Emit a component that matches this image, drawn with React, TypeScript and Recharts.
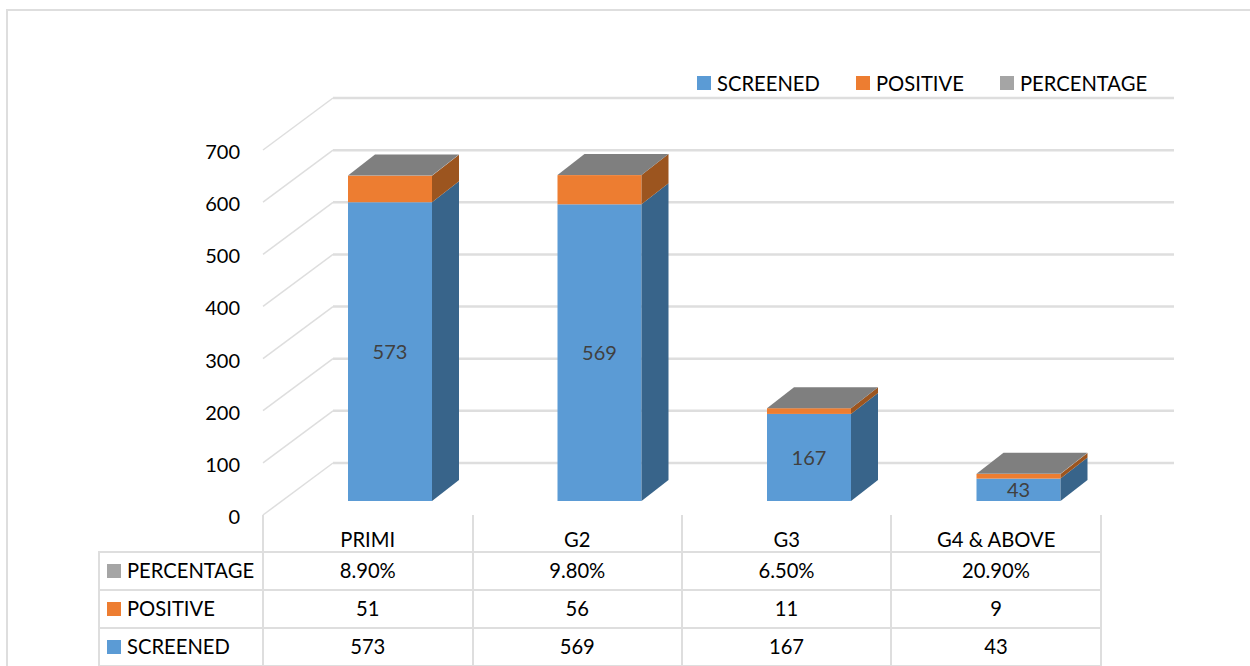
import React from "react";
import { BarChart, Bar, XAxis, YAxis, Legend, LabelList, CartesianGrid } from "recharts";

const categories = ["PRIMI", "G2", "G3", "G4 & ABOVE"];
const screened = [573, 569, 167, 43];
const positive = [51, 56, 11, 9];
const percentage = [8.9, 9.8, 6.5, 20.9];
const yTicks = [0, 100, 200, 300, 400, 500, 600, 700];

const W = 1250;
const H = 666;
const FONT = "Lato, 'Open Sans', sans-serif";
const FS = 20.2;
const GRID = "#dedede";
const WALL_FRONT = 263;
const WALL_BACK = 333;
const GRID_END = 1174;
const DX = 27;
const DY = 21;
const BLUE = "#5B9BD5";
const BLUE_SIDE = "#38648A";
const ORANGE = "#ED7D31";
const ORANGE_SIDE = "#9C551F";
const GREY = "#A5A5A5";
const GREY_TOP = "#7F7F7F";

const rows = categories.map((name, i) => ({
  name,
  SCREENED: screened[i],
  POSITIVE: positive[i],
  PERCENTAGE: percentage[i] / 100,
}));

const tableRows = [
  { label: "PERCENTAGE", color: GREY, cells: percentage.map((v) => v.toFixed(2) + "%") },
  { label: "POSITIVE", color: ORANGE, cells: positive.map(String) },
  { label: "SCREENED", color: BLUE, cells: screened.map(String) },
];
const legendItems = [
  { label: "SCREENED", color: BLUE, x: 697 },
  { label: "POSITIVE", color: ORANGE, x: 856 },
  { label: "PERCENTAGE", color: GREY, x: 1000 },
];

const colX = [263, 472.5, 682, 891, 1101];
const rowY = [552, 590, 628, 666];

function face(fill: string, side: string) {
  return (p: any) => {
    const { x, y, width: w, height: h } = p;
    return (
      <g>
        <rect x={x} y={y} width={w} height={h} fill={fill} />
        <polygon
          points={`${x + w},${y} ${x + w + DX},${y - DY} ${x + w + DX},${y + h - DY} ${x + w},${y + h}`}
          fill={side}
        />
      </g>
    );
  };
}

function topFace(p: any) {
  const { x, y, width: w } = p;
  return (
    <polygon
      points={`${x},${y} ${x + DX},${y - DY} ${x + w + DX},${y - DY} ${x + w},${y}`}
      fill={GREY_TOP}
    />
  );
}

function gridLine(p: any) {
  const y = p.y1;
  return (
    <g key={`grid-${p.index}-${y}`}>
      <line x1={WALL_FRONT} y1={y + 14} x2={WALL_BACK} y2={y - 38} stroke={GRID} strokeWidth={1.5} />
      <line x1={WALL_BACK} y1={y - 38} x2={GRID_END} y2={y - 38} stroke={GRID} strokeWidth={2.5} />
    </g>
  );
}

function YTick(p: any) {
  return (
    <text x={240} y={p.y + 15} textAnchor="end" dominantBaseline="central" fontSize={20} fontFamily={FONT} fill="#000">
      {p.payload.value}
    </text>
  );
}

function XTick(p: any) {
  return (
    <text x={p.x - 22} y={539} textAnchor="middle" dominantBaseline="central" fontSize={FS} fontFamily={FONT} fill="#000">
      {p.payload.value}
    </text>
  );
}

function LegendContent() {
  return (
    <div style={{ position: "relative", width: W, height: 24, fontFamily: FONT, fontSize: FS, color: "#000" }}>
      {legendItems.map((it) => (
        <div key={it.label}>
          <div style={{ position: "absolute", left: it.x, top: 5, width: 14, height: 14, background: it.color }} />
          <div style={{ position: "absolute", left: it.x + 20, top: 0, lineHeight: "24px", whiteSpace: "nowrap" }}>{it.label}</div>
        </div>
      ))}
    </div>
  );
}

function Line({ x, y, w, h }: { x: number; y: number; w: number; h: number }) {
  return <div style={{ position: "absolute", left: x, top: y, width: w, height: h, background: GRID }} />;
}

function Table() {
  const center: React.CSSProperties = {
    position: "absolute",
    fontFamily: FONT,
    fontSize: FS,
    color: "#000",
    textAlign: "center",
    lineHeight: "37px",
    whiteSpace: "nowrap",
  };
  return (
    <>
      {rowY.map((y) => (
        <Line key={y} x={99} y={y - 1} w={1003} h={2} />
      ))}
      <Line x={98} y={551} w={2} h={115} />
      {colX.map((x) => (
        <Line key={x} x={x - 1} y={515} w={2} h={151} />
      ))}
      {tableRows.map((r, i) => (
        <div key={r.label}>
          <div style={{ position: "absolute", left: 107, top: rowY[i] + 12, width: 14, height: 14, background: r.color }} />
          <div style={{ ...center, left: 127, top: rowY[i], textAlign: "left" }}>{r.label}</div>
          {r.cells.map((c, j) => (
            <div key={j} style={{ ...center, left: colX[j], width: colX[j + 1] - colX[j], top: rowY[i] }}>
              {c}
            </div>
          ))}
        </div>
      ))}
    </>
  );
}

export default function App() {
  return (
    <div style={{ position: "absolute", left: 0, top: 0, width: W, height: H, background: "#fff", overflow: "hidden" }}>
      <Line x={6} y={9} w={W - 6} h={2} />
      <Line x={6} y={9} w={2} h={H - 9} />
      <div style={{ position: "absolute", left: 0, top: 0 }}>
        <BarChart
          width={W}
          height={H}
          data={rows}
          barSize={84}
          margin={{ top: 136, right: 127, bottom: 121, left: 263 }}
        >
          <CartesianGrid vertical={false} horizontal={gridLine} syncWithTicks />
          <XAxis dataKey="name" axisLine={false} tickLine={false} tick={<XTick />} interval={0} height={20} />
          <YAxis width={22} domain={[0, 700]} ticks={yTicks} interval={0} axisLine={false} tickLine={false} tick={<YTick />} />
          <Legend
            content={<LegendContent />}
            wrapperStyle={{ position: "absolute", left: 0, top: 71, width: W, bottom: "auto" }}
          />
          <Bar dataKey="SCREENED" stackId="a" fill={BLUE} shape={face(BLUE, BLUE_SIDE)} isAnimationActive={false}>
            <LabelList dataKey="SCREENED" position="center" fill="#404040" fontSize={20} fontFamily={FONT} />
          </Bar>
          <Bar dataKey="POSITIVE" stackId="a" fill={ORANGE} shape={face(ORANGE, ORANGE_SIDE)} isAnimationActive={false} />
          <Bar dataKey="PERCENTAGE" stackId="a" fill={GREY} shape={topFace} isAnimationActive={false} />
        </BarChart>
      </div>
      <Table />
    </div>
  );
}
